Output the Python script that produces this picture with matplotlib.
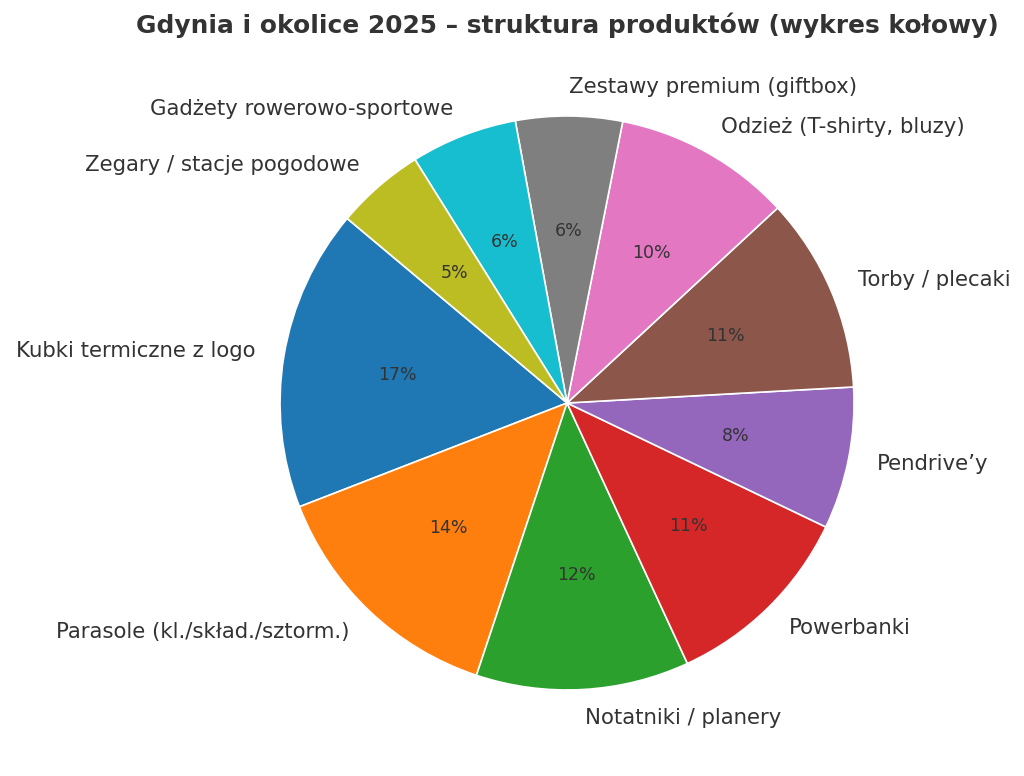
import matplotlib
matplotlib.use("Agg")
import matplotlib.pyplot as plt

labels = ["Kubki termiczne z logo", "Parasole (kl./skład./sztorm.)", "Notatniki / planery",
          "Powerbanki", "Pendrive\u2019y", "Torby / plecaki", "Odzież (T-shirty, bluzy)",
          "Zestawy premium (giftbox)", "Gadżety rowerowo-sportowe", "Zegary / stacje pogodowe"]
values = [17, 14, 12, 11, 8, 11, 10, 6, 6, 5]
colors = ["#1f77b4", "#ff7f0e", "#2ca02c", "#d62728", "#9467bd", "#8c564b",
          "#e377c2", "#7f7f7f", "#17becf", "#bcbd22"]

fig = plt.figure(figsize=(10.24, 7.76), dpi=100)
ax = fig.add_axes([0.2034, 0.0184, 0.7007, 0.9246])

wedges, texts, autotexts = ax.pie(values, labels=labels, colors=colors, startangle=140,
                                  autopct="%1.0f%%", pctdistance=0.6, labeldistance=1.1,
                                  wedgeprops=dict(edgecolor="white", linewidth=1.2),
                                  textprops=dict(color="#333333", fontsize=15.3))
for t in autotexts:
    t.set_fontsize(12.5)
ax.set_aspect("equal")

fig.text(567 / 1024, 1 - 25 / 776, "Gdynia i okolice 2025 \u2013 struktura produktów (wykres kołowy)",
         ha="center", va="center", fontsize=17.9, fontweight="bold", color="#333333")

fig.savefig("out.png", dpi=100)
